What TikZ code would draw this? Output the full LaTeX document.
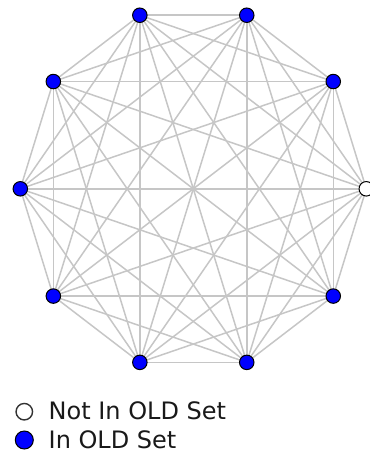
\documentclass[tikz,border=0pt]{standalone}
\usepackage{fontspec}
\setmainfont{DejaVu Sans}
\tikzset{
  edge/.style={draw=gray!45, line width=1.5pt},
  vin/.style={circle, draw=black, line width=1pt, fill=blue, minimum size=14.5pt, inner sep=0pt},
  vout/.style={circle, draw=black, line width=1pt, fill=white, minimum size=14.5pt, inner sep=0pt},
  lgout/.style={circle, draw=black!80, line width=1.4pt, fill=white, minimum size=16.5pt, inner sep=0pt},
  lgin/.style={circle, draw=black, line width=1pt, fill=blue, minimum size=18pt, inner sep=0pt},
  lgtext/.style={anchor=base west, inner sep=0pt, font=\fontsize{24}{28}\selectfont, text=black!90}
}
\begin{document}
\begin{tikzpicture}[x=1pt,y=-1pt]
\useasboundingbox (0,0) rectangle (370,456);
% vertex positions
\foreach \i in {0,...,9}{
  \coordinate (p\i) at ({193.3+173*cos(36*\i)},{188.8-182.5*sin(36*\i)});
}
% edges of the complete graph
\foreach \i in {0,...,9}{
  \foreach \j in {0,...,9}{
    \ifnum\i<\j
      \draw[edge] (p\i) -- (p\j);
    \fi
  }
}
% vertices
\node[vout] (v0) at (p0) {};
\foreach \i in {1,...,9}{
  \node[vin] (v\i) at (p\i) {};
}
% legend
\node[lgout] (l1) at (24.3,411.7) {};
\node[lgin] (l2) at (24.3,440) {};
\node[lgtext] (t1) at (48.5,419.5) {Not In OLD Set};
\node[lgtext] (t2) at (48.5,448.3) {In OLD Set};
\end{tikzpicture}
\end{document}
